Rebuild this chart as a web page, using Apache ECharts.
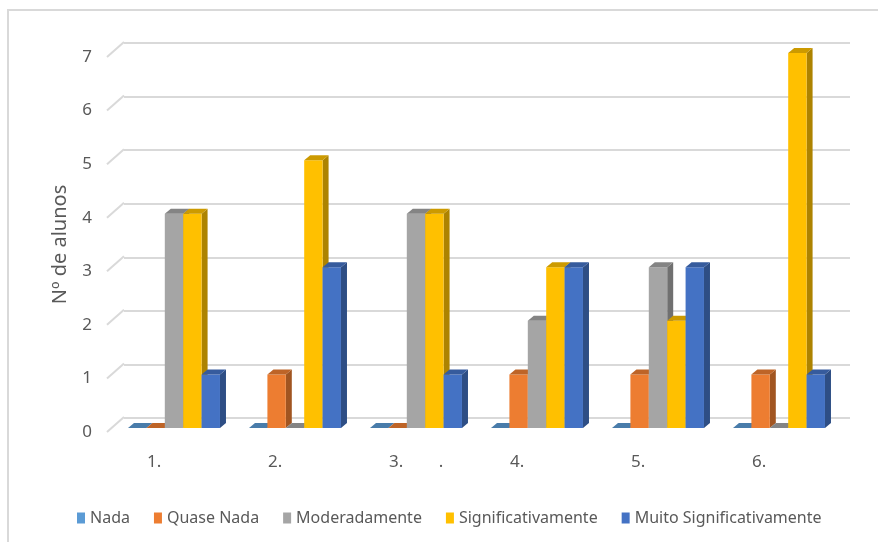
<!DOCTYPE html>
<html>
<head>
<meta charset="utf-8">
<script src="https://cdn.jsdelivr.net/npm/echarts@6/dist/echarts.min.js"></script>
<style>
  html, body { margin: 0; padding: 0; background: #fff; }
  #chart { width: 878px; height: 542px; }
</style>
</head>
<body>
<div id="chart"></div>
<script>
// dados
const categories = ['1.', '2.', '3.        .', '4.', '5.', '6.'];
const seriesNames = ['Nada', 'Quase Nada', 'Moderadamente', 'Significativamente', 'Muito Significativamente'];
const nada = [0, 0, 0, 0, 0, 0];
const quaseNada = [0, 1, 0, 1, 1, 1];
const moderadamente = [4, 0, 4, 2, 3, 0];
const significativamente = [4, 5, 4, 3, 2, 7];
const muitoSignificativamente = [1, 3, 1, 3, 3, 1];
const yTicks = [0, 1, 2, 3, 4, 5, 6, 7];

const seriesValues = [nada, quaseNada, moderadamente, significativamente, muitoSignificativamente];
const colors = ['#5B9BD5', '#ED7D31', '#A5A5A5', '#FFC000', '#4472C4'];

const textColor = '#595959';
const gridColor = '#d9d9d9';
const DX = 6, DY = 5;        // profundidade das barras
const PX = 17, PY = 15;      // profundidade do plano de fundo

function shade(hex, f) {
  const n = parseInt(hex.slice(1), 16);
  const r = Math.round(((n >> 16) & 255) * f);
  const g = Math.round(((n >> 8) & 255) * f);
  const b = Math.round((n & 255) * f);
  return 'rgb(' + r + ',' + g + ',' + b + ')';
}

const chart = echarts.init(document.getElementById('chart'));

// barras 3D
const barSeries = seriesNames.map((name, si) => ({
  name: name,
  type: 'custom',
  xAxisIndex: 2,
  yAxisIndex: 2,
  itemStyle: { color: colors[si] },
  data: seriesValues[si].map((v, i) => [i, v]),
  renderItem: (params, api) => {
    const top = api.coord([api.value(0), api.value(1)]);
    const base = api.coord([api.value(0), 0]);
    const band = api.size([1, 0])[0];
    const w = band * 0.152;
    const x = top[0] - 2.5 * w + si * w;
    const yT = top[1], y0 = base[1];
    const c = colors[si];
    const children = [];
    if (y0 - yT > 0.5) {
      children.push({
        type: 'polygon',
        shape: { points: [[x + w, yT], [x + w + DX, yT - DY], [x + w + DX, y0 - DY], [x + w, y0]] },
        style: { fill: shade(c, 0.68) }
      });
      children.push({
        type: 'rect',
        shape: { x: x, y: yT, width: w, height: y0 - yT },
        style: { fill: c }
      });
    }
    children.push({
      type: 'polygon',
      shape: { points: [[x, yT], [x + DX, yT - DY], [x + w + DX, yT - DY], [x + w, yT]] },
      style: { fill: shade(c, 0.8) }
    });
    return { type: 'group', children: children };
  }
}));

chart.setOption({
  animation: false,
  graphic: [{
    type: 'rect',
    shape: { x: 8, y: 10, width: 900, height: 600 },
    style: { fill: 'none', stroke: gridColor, lineWidth: 2 },
    z: -10
  }],
  legend: {
    left: 72,
    top: 505,
    icon: 'rect',
    itemWidth: 8,
    itemHeight: 11,
    itemGap: 24,
    data: seriesNames,
    textStyle: { color: textColor, fontSize: 16, fontFamily: 'Noto Sans' }
  },
  grid: [
    { left: 124, right: 28, top: 43, bottom: 124 },      // plano de fundo
    { left: 107, right: 45, top: 57, bottom: 110 },      // plano da frente (rótulos)
    { left: 113.5, right: 38.5, top: 53, bottom: 114 },  // barras
    { left: 86.5, right: 65.5, top: 53, bottom: 114 }    // rótulos das categorias
  ],
  xAxis: [
    { gridIndex: 0, type: 'category', data: categories, show: false },
    { gridIndex: 1, type: 'value', min: 0, max: 1, show: false },
    { gridIndex: 2, type: 'category', data: categories, show: false },
    {
      gridIndex: 3, type: 'category', data: categories,
      axisLine: { show: false }, axisTick: { show: false },
      axisLabel: { align: 'left', margin: 26, color: textColor, fontSize: 17, fontFamily: 'Noto Sans' }
    }
  ],
  yAxis: [
    {
      gridIndex: 0, type: 'value', min: 0, max: 7, interval: 1,
      axisLine: { show: false }, axisTick: { show: false }, axisLabel: { show: false },
      splitLine: { lineStyle: { color: gridColor, width: 2 } }
    },
    {
      gridIndex: 1, type: 'value', min: 0, max: 7, interval: 1,
      axisLine: { show: false }, axisTick: { show: false }, splitLine: { show: false },
      axisLabel: { margin: 15, color: textColor, fontSize: 17, fontFamily: 'Noto Sans' },
      name: 'Nº de alunos', nameLocation: 'middle', nameGap: 37, nameRotate: 90,
      nameTextStyle: { color: textColor, fontSize: 20, fontFamily: 'Noto Sans' }
    },
    { gridIndex: 2, type: 'value', min: 0, max: 7, interval: 1, show: false },
    { gridIndex: 3, type: 'value', min: 0, max: 7, interval: 1, show: false }
  ],
  series: [
    {
      // diagonais do plano lateral
      type: 'custom',
      xAxisIndex: 1,
      yAxisIndex: 1,
      silent: true,
      data: yTicks.map(v => [0, v]),
      renderItem: (params, api) => {
        const p = api.coord([0, api.value(1)]);
        return {
          type: 'line',
          shape: { x1: p[0], y1: p[1], x2: p[0] + PX, y2: p[1] - PY },
          style: { stroke: gridColor, lineWidth: 2 }
        };
      }
    },
    ...barSeries
  ]
});
</script>
</body>
</html>
